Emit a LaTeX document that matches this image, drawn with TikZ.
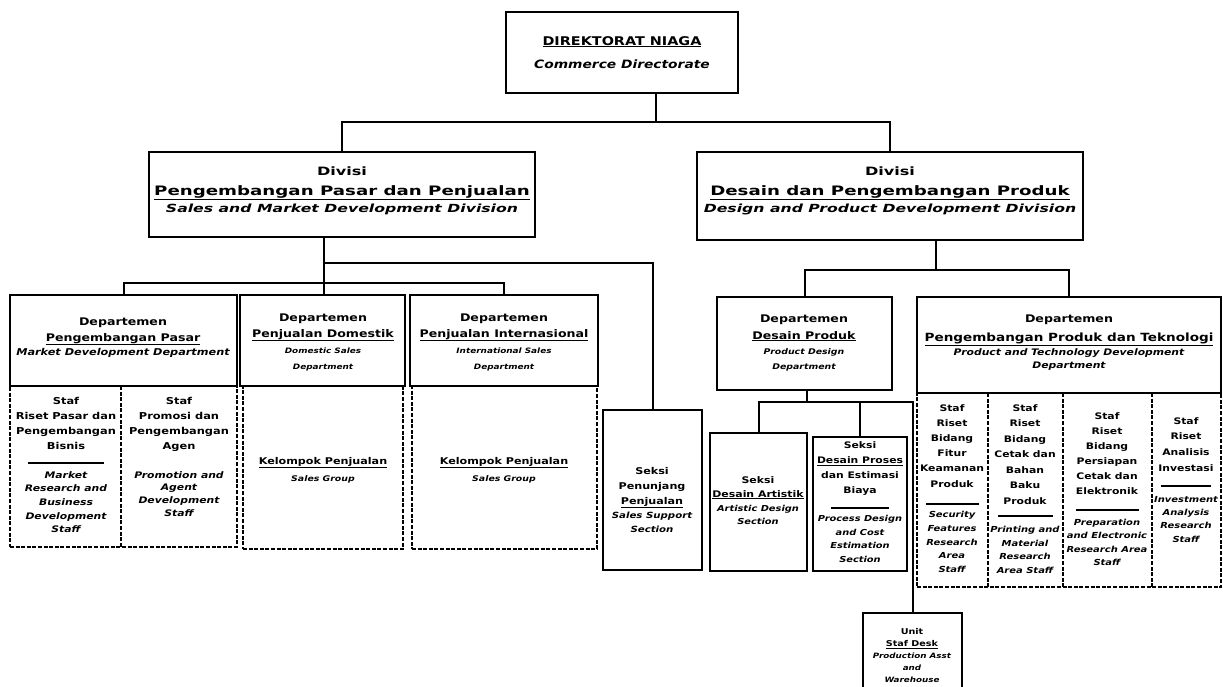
\documentclass[tikz,border=0pt]{standalone}
\usepackage{fontspec}
\setmainfont{DejaVu Sans}[FakeStretch=1.2]
\newfontfamily\widefont{DejaVu Sans}[FakeStretch=1.4]
\usetikzlibrary{fit}
\tikzset{
  box/.style={draw, line width=2pt, inner sep=0pt},
  dbox/.style={draw, line width=1.6pt, dash pattern=on 4pt off 1.6pt, inner sep=0pt},
  sepline/.style={line width=1.6pt, dash pattern=on 4pt off 1.6pt},
  link/.style={line width=2pt},
  rulex/.style={line width=1.3pt},
  t/.style={anchor=base, inner sep=0pt},
  col/.style={anchor=north, align=center, inner sep=0pt},
}
\newcommand\fs[2]{\fontsize{#1}{#2}\selectfont\bfseries}
\newcommand\fsi[2]{\fontsize{#1}{#2}\selectfont\bfseries\itshape}
\newcommand\ws[2]{\widefont\fontsize{#1}{#2}\selectfont\bfseries}
\newcommand\wsi[2]{\widefont\fontsize{#1}{#2}\selectfont\bfseries\itshape}
\begin{document}
\begin{tikzpicture}[x=1pt,y=-1pt]
\useasboundingbox (0,0) rectangle (1223,686);
\clip (0,0) rectangle (1223,686);
\fill[white] (0,0) rectangle (1223,686);

% ---------- directorate ----------
\node[box, line width=2.8pt, fit={(506,12)(738,93)}] (dir) {};
\node[t, font=\fs{12}{15}] (dirA) at (622,45) {\underline{DIREKTORAT NIAGA}};
\node[t, font=\fsi{11.5}{15}] (dirB) at (622,68) {Commerce Directorate};

% ---------- divisions ----------
\node[box, fit={(149,152)(535,237)}] (divL) {};
\node[t, font=\ws{11.5}{14}] (divLa) at (342,175) {Divisi};
\node[t, font=\ws{13}{16}] (divLb) at (342,195) {\underline{Pengembangan Pasar dan Penjualan}};
\node[t, font=\wsi{11.2}{13}] (divLc) at (342,212) {Sales and Market Development Division};

\node[box, fit={(697,152)(1083,240)}] (divR) {};
\node[t, font=\ws{11.5}{14}] (divRa) at (890,175) {Divisi};
\node[t, font=\ws{13}{16}] (divRb) at (890,195) {\underline{Desain dan Pengembangan Produk}};
\node[t, font=\wsi{11.2}{13}] (divRc) at (890,212) {Design and Product Development Division};

\coordinate (j0) at (656,122);
\draw[link] (dir.south -| j0) -- (j0);
\draw[link] (divL.north) |- (j0) -| (divR.north);

% ---------- sales departments ----------
\node[box, fit={(10,295)(237,386)}] (dep1) {};
\node[t, font=\fs{10.5}{13}] (dep1a) at (123,325) {Departemen};
\node[t, font=\fs{10.5}{13}] (dep1b) at (123,341) {\underline{Pengembangan Pasar}};
\node[t, font=\fsi{9.4}{10}] (dep1c) at (123,355) {Market Development Department};
\node[dbox, fit={(10,386)(237,547)}] (reg1) {};
\draw[sepline] (121,386) -- (121,547);
\node[col, font=\fs{9.5}{15}] (s11) at (66,397) {Staf\\Riset Pasar dan\\Pengembangan\\Bisnis};
\draw[rulex] (28,463) -- (104,463);
\node[col, font=\fsi{9}{13.7}] (s12) at (66,471) {Market\\Research and\\Business\\Development\\Staff};
\node[col, font=\fs{9.5}{15}] (s21) at (179,397) {Staf\\Promosi dan\\Pengembangan\\Agen};
\node[col, font=\fsi{9}{12.7}] (s22) at (179,471) {Promotion and\\Agent\\Development\\Staff};

\node[box, fit={(240,295)(405,386)}] (dep2) {};
\node[t, font=\fs{10.5}{13}] (dep2a) at (323,321) {Departemen};
\node[t, font=\fs{10.5}{13}] (dep2b) at (323,337) {\underline{Penjualan Domestik}};
\node[t, font=\fsi{7.4}{10}] (dep2c) at (323,353) {Domestic Sales};
\node[t, font=\fsi{7.4}{10}] (dep2d) at (323,369) {Department};
\node[dbox, fit={(243,386)(403,549)}] (reg2) {};
\node[t, font=\fs{9.3}{12}] (g2a) at (323,464) {\underline{Kelompok Penjualan}};
\node[t, font=\fsi{7.8}{10}] (g2b) at (323,481) {Sales Group};

\node[box, fit={(410,295)(598,386)}] (dep3) {};
\node[t, font=\fs{10.5}{13}] (dep3a) at (504,321) {Departemen};
\node[t, font=\fs{10.5}{13}] (dep3b) at (504,337) {\underline{Penjualan Internasional}};
\node[t, font=\fsi{7.4}{10}] (dep3c) at (504,353) {International Sales};
\node[t, font=\fsi{7.4}{10}] (dep3d) at (504,369) {Department};
\node[dbox, fit={(412,386)(597,549)}] (reg3) {};
\node[t, font=\fs{9.3}{12}] (g3a) at (504,464) {\underline{Kelompok Penjualan}};
\node[t, font=\fsi{7.8}{10}] (g3b) at (504,481) {Sales Group};

\node[box, fit={(603,410)(702,570)}] (pen) {};
\node[col, font=\fs{9.3}{15}] (pena) at (652,467) {Seksi\\Penunjang\\\underline{Penjualan}};
\node[col, font=\fsi{8.5}{14}] (penb) at (652,512) {Sales Support\\Section};

\coordinate (j1) at (324,283);
\coordinate (j2) at (324,263);
\draw[link] (divL.south -| j1) -- (dep2.north -| j1);
\draw[link] (dep1.north) |- (j1) -| (dep3.north);
\draw[link] (j2) -| (pen.north);

% ---------- design departments ----------
\node[box, fit={(717,297)(892,390)}] (dpr) {};
\node[t, font=\fs{10.5}{13}] (dpra) at (804,322) {Departemen};
\node[t, font=\fs{10.5}{13}] (dprb) at (804,339) {\underline{Desain Produk}};
\node[t, font=\fsi{7.8}{10}] (dprc) at (804,354) {Product Design};
\node[t, font=\fsi{7.8}{10}] (dprd) at (804,369) {Department};

\node[box, fit={(917,297)(1221,393)}] (dpt) {};
\node[t, font=\fs{10.5}{13}] (dpta) at (1069,322) {Departemen};
\node[t, font=\fs{11.3}{13}] (dptb) at (1069,341) {\underline{Pengembangan Produk dan Teknologi}};
\node[t, font=\fsi{9}{10}] (dptc) at (1069,355) {Product and Technology Development};
\node[t, font=\fsi{9}{10}] (dptd) at (1069,368) {Department};
\node[dbox, fit={(917,393)(1221,587)}] (reg5) {};
\draw[sepline] (988,393) -- (988,587);
\draw[sepline] (1063,393) -- (1063,587);
\draw[sepline] (1152,393) -- (1152,587);

\node[col, font=\fs{9}{15.2}] (r11) at (952,404) {Staf\\Riset\\Bidang\\Fitur\\Keamanan\\Produk};
\draw[rulex] (926,504) -- (979,504);
\node[col, font=\fsi{8.3}{13.75}] (r12) at (952,511) {Security\\Features\\Research\\Area\\Staff};

\node[col, font=\fs{9}{15.5}] (r21) at (1025,404) {Staf\\Riset\\Bidang\\Cetak dan\\Bahan\\Baku\\Produk};
\draw[rulex] (998,516) -- (1053,516);
\node[col, font=\fsi{8.3}{13.7}] (r22) at (1025,526) {Printing and\\Material\\Research\\Area Staff};

\node[col, font=\fs{9}{15}] (r31) at (1107,412) {Staf\\Riset\\Bidang\\Persiapan\\Cetak dan\\Elektronik};
\draw[rulex] (1076,510) -- (1139,510);
\node[col, font=\fsi{8.3}{13.3}] (r32) at (1107,519) {Preparation\\and Electronic\\Research Area\\Staff};

\node[col, font=\fs{9}{15.7}] (r41) at (1186,417) {Staf\\Riset\\Analisis\\Investasi};
\draw[rulex] (1161,486) -- (1211,486);
\node[col, font=\fsi{8.3}{13.3}] (r42) at (1186,496) {Investment\\Analysis\\Research\\Staff};

% ---------- sections ----------
\node[box, fit={(710,433)(807,571)}] (sda) {};
\node[col, font=\fs{9.1}{14}] (sdaa) at (758,476) {Seksi\\\underline{Desain Artistik}};
\node[col, font=\fsi{8.2}{13}] (sdab) at (758,505) {Artistic Design\\Section};

\node[box, fit={(813,437)(907,571)}] (sdp) {};
\node[col, font=\fs{9}{15.3}] (sdpa) at (860,441) {Seksi\\\underline{Desain Proses}\\dan Estimasi\\Biaya};
\draw[rulex] (831,508) -- (889,508);
\node[col, font=\fsi{8.2}{13.7}] (sdpb) at (860,515) {Process Design\\and Cost\\Estimation\\Section};

\node[box, fit={(863,613)(962,700)}] (unit) {};
\node[col, font=\fs{8}{12.5}] (unita) at (912,628) {Unit\\\underline{Staf Desk}};
\node[col, font=\fsi{7.3}{12}] (unitb) at (912,653) {Production Asst\\and\\Warehouse};

\coordinate (k0) at (936,270);
\draw[link] (divR.south -| k0) -- (k0);
\draw[link] (dpr.north) |- (k0) -| (dpt.north);
\coordinate (k1) at (807,402);
\draw[link] (dpr.south -| k1) -- (k1);
\draw[link] (sda.north) |- (k1) -| (unit.north);
\draw[link] (sdp.north) -- (sdp.north |- k1);
\end{tikzpicture}
\end{document}
